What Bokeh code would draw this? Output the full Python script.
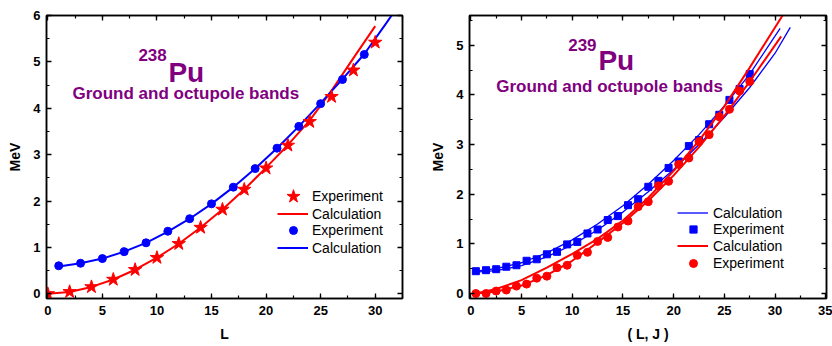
from bokeh.plotting import figure
from bokeh.models import Label, Legend, LegendItem, LinearAxis, SingleIntervalTicker
from bokeh.layouts import row
from bokeh.embed import file_html
from bokeh.resources import INLINE

FONT = "Liberation Sans"
PURPLE = "#800080"
RED = "#ff0000"
BLUE = "#0000ff"

# ---------------- 238Pu data ----------------
L_ground = [0, 2, 4, 6, 8, 10, 12, 14, 16, 18, 20, 22, 24, 26, 28, 30]
E_ground_exp = [0.0, 0.045, 0.15, 0.31, 0.52, 0.78, 1.08, 1.43, 1.82, 2.25, 2.71, 3.20, 3.71, 4.25, 4.82, 5.42]
E_ground_calc = [0.0, 0.04, 0.15, 0.31, 0.52, 0.78, 1.08, 1.43, 1.82, 2.25, 2.72, 3.21, 3.74, 4.38, 5.08, 5.77]

L_oct = [1, 3, 5, 7, 9, 11, 13, 15, 17, 19, 21, 23, 25, 27, 29]
E_oct_exp = [0.605, 0.66, 0.76, 0.91, 1.10, 1.35, 1.62, 1.94, 2.30, 2.70, 3.14, 3.61, 4.10, 4.62, 5.16]
L_oct_calc = [1, 3, 5, 7, 9, 11, 13, 15, 17, 19, 21, 23, 25, 27, 29, 31, 31.5]
E_oct_calc = [0.59, 0.66, 0.76, 0.91, 1.10, 1.34, 1.62, 1.94, 2.30, 2.70, 3.14, 3.61, 4.11, 4.63, 5.17, 5.83, 6.0]

# ---------------- 239Pu data ----------------
J_exp = [0.5, 1.5, 2.5, 3.5, 4.5, 5.5, 6.5, 7.5, 8.5, 9.5, 10.5, 11.5, 12.5, 13.5,
         14.5, 15.5, 16.5, 17.5, 18.5, 19.5, 20.5, 21.5, 22.5, 23.5, 24.5, 25.5, 26.5, 27.5]
E_blue_exp = [0.45, 0.47, 0.49, 0.54, 0.57, 0.66, 0.69, 0.79, 0.84, 0.99, 1.04, 1.21, 1.29, 1.48,
              1.56, 1.78, 1.90, 2.15, 2.27, 2.53, 2.66, 2.97, 3.09, 3.41, 3.60, 3.90, 4.12, 4.42]
E_red_exp = [0.0, 0.0, 0.05, 0.07, 0.15, 0.19, 0.31, 0.35, 0.52, 0.57, 0.77, 0.83, 1.05, 1.13,
             1.34, 1.46, 1.75, 1.85, 2.17, 2.26, 2.60, 2.73, 3.06, 3.20, 3.56, 3.71, 4.08, 4.27]

J_blue_calc1 = [0.5, 2.5, 5, 7.5, 10, 12.5, 15, 17.5, 20, 22.5, 25, 27.5, 30.5]
E_blue_calc1 = [0.45, 0.50, 0.62, 0.82, 1.08, 1.40, 1.77, 2.20, 2.68, 3.20, 3.78, 4.42, 5.34]
J_blue_calc2 = [0.5, 2.5, 5, 7.5, 10, 12.5, 15, 17.5, 20, 22.5, 25, 27.5, 30, 31.5]
E_blue_calc2 = [0.43, 0.46, 0.56, 0.74, 0.98, 1.28, 1.64, 2.05, 2.50, 3.00, 3.55, 4.15, 4.84, 5.36]
J_red_calc1 = [0.5, 2.5, 5, 7.5, 10, 12.5, 15, 17.5, 20, 22.5, 25, 27.5, 30.8]
E_red_calc1 = [0.0, 0.09, 0.27, 0.52, 0.80, 1.10, 1.47, 1.93, 2.47, 3.08, 3.77, 4.55, 5.62]
J_red_calc2 = [0.5, 2.5, 5, 7.5, 10, 12.5, 15, 17.5, 20, 22.5, 25, 27.5, 30.6]
E_red_calc2 = [0.0, 0.04, 0.16, 0.37, 0.66, 1.03, 1.42, 1.87, 2.38, 2.95, 3.58, 4.27, 5.18]


def style(p, xint, yint, xlabel):
    xt = SingleIntervalTicker(interval=xint, num_minor_ticks=2)
    yt = SingleIntervalTicker(interval=yint, num_minor_ticks=2)
    p.xaxis.ticker = xt
    p.yaxis.ticker = yt
    p.xaxis.axis_label = xlabel
    p.yaxis.axis_label = "MeV"
    for ax in list(p.xaxis) + list(p.yaxis):
        ax.major_tick_in = 5
        ax.major_tick_out = 0
        ax.minor_tick_in = 3
        ax.minor_tick_out = 0
        ax.axis_line_color = "black"
        ax.axis_line_width = 1.5
        ax.major_tick_line_color = "black"
        ax.major_tick_line_width = 1.3
        ax.minor_tick_line_color = "black"
        ax.minor_tick_line_width = 1.2
        ax.major_label_text_font = FONT
        ax.major_label_text_font_style = "bold"
        ax.major_label_text_font_size = "13px"
        ax.major_label_text_color = "black"
        ax.axis_label_text_font = FONT
        ax.axis_label_text_font_style = "bold"
        ax.axis_label_text_font_size = "14px"
        ax.axis_label_text_color = "black"
    p.yaxis.major_label_standoff = 6
    p.yaxis.axis_label_standoff = 7
    p.xaxis.major_label_standoff = 7
    p.xaxis.axis_label_standoff = 8
    for side, tk in (("above", xt), ("right", yt)):
        ax = LinearAxis(ticker=tk, major_tick_in=5, major_tick_out=0, minor_tick_in=3,
                        minor_tick_out=0, major_label_text_font_size="0px",
                        major_label_text_color=None,
                        major_label_standoff=0, axis_line_color="black", axis_line_width=1.5,
                        major_tick_line_width=1.3, minor_tick_line_width=1.2)
        p.add_layout(ax, side)
    p.xgrid.visible = False
    p.ygrid.visible = False
    p.outline_line_color = "black"
    p.outline_line_width = 1.5


def add_leg(p, label, rends, x, y, gw, gh, standoff):
    leg = Legend(items=[LegendItem(label=label, renderers=rends)], location=(x, y),
                 glyph_width=gw, glyph_height=gh, label_height=gh, label_standoff=standoff,
                 padding=0, margin=0, spacing=0, border_line_color=None,
                 background_fill_alpha=0, label_text_font=FONT, label_text_font_size="14px",
                 label_text_color="black", label_text_baseline="middle")
    p.add_layout(leg)


def title(p, x1, y1, x2, y2, x3, y3, iso):
    p.add_layout(Label(x=x1, y=y1, text=iso, text_font=FONT, text_font_style="bold",
                       text_font_size="17px", text_color=PURPLE, text_baseline="alphabetic"))
    p.add_layout(Label(x=x2, y=y2, text="Pu", text_font=FONT, text_font_style="bold",
                       text_font_size="28px", text_color=PURPLE, text_baseline="alphabetic"))
    p.add_layout(Label(x=x3, y=y3, text="Ground and octupole bands", text_font=FONT,
                       text_font_style="bold", text_font_size="17px", text_color=PURPLE,
                       text_baseline="middle"))


# ---------------- left figure ----------------
p1 = figure(width=422, height=346, x_range=(-0.12, 32.5), y_range=(-0.1, 6.0),
            output_backend="svg", toolbar_location=None,
            min_border_left=46, min_border_right=20, min_border_top=15, min_border_bottom=45)
style(p1, 5, 1, "L")
r_gc = p1.line(L_ground, E_ground_calc, color=RED, line_width=2)
r_oc = p1.line(L_oct_calc, E_oct_calc, color=BLUE, line_width=2)
r_oe = p1.scatter(L_oct, E_oct_exp, marker="circle", size=8, color=BLUE)
r_ge = p1.scatter(L_ground, E_ground_exp, marker="star", size=14, color=RED)
title(p1, 8.3, 5.15, 11.05, 4.77, 2.26, 4.32, "238")
add_leg(p1, "Experiment", [r_ge], 230, 85, 34, 34, 2)
add_leg(p1, "Calculation", [r_gc], 231, 76, 31, 17, 4)
add_leg(p1, "Experiment", [r_oe], 237, 58, 20, 20, 9)
add_leg(p1, "Calculation", [r_oc], 231, 42, 31, 17, 4)

# ---------------- right figure ----------------
p2 = figure(width=410, height=346, x_range=(-0.13, 35.07), y_range=(-0.1, 5.6),
            output_backend="svg", toolbar_location=None,
            min_border_left=47, min_border_right=6, min_border_top=12, min_border_bottom=48)
style(p2, 5, 1, "( L, J )")
r_bc1 = p2.line(J_blue_calc1, E_blue_calc1, color=BLUE, line_width=1.3)
p2.line(J_blue_calc2, E_blue_calc2, color=BLUE, line_width=1.3)
r_be = p2.scatter(J_exp, E_blue_exp, marker="square", size=7, color=BLUE)
r_rc1 = p2.line(J_red_calc1, E_red_calc1, color=RED, line_width=2)
p2.line(J_red_calc2, E_red_calc2, color=RED, line_width=2)
r_re = p2.scatter(J_exp, E_red_exp, marker="circle", size=8, color=RED)
title(p2, 9.6, 5.01, 12.58, 4.70, 2.5, 4.17, "239")
add_leg(p2, "Calculation", [r_bc1], 208, 77, 31, 17, 5)
add_leg(p2, "Experiment", [r_be], 215, 60, 18, 18, 11)
add_leg(p2, "Calculation", [r_rc1], 208, 44, 31, 17, 5)
add_leg(p2, "Experiment", [r_re], 214, 25, 20, 20, 10)

layout = row(p1, p2)
open("out.html", "w").write(file_html(layout, INLINE))
